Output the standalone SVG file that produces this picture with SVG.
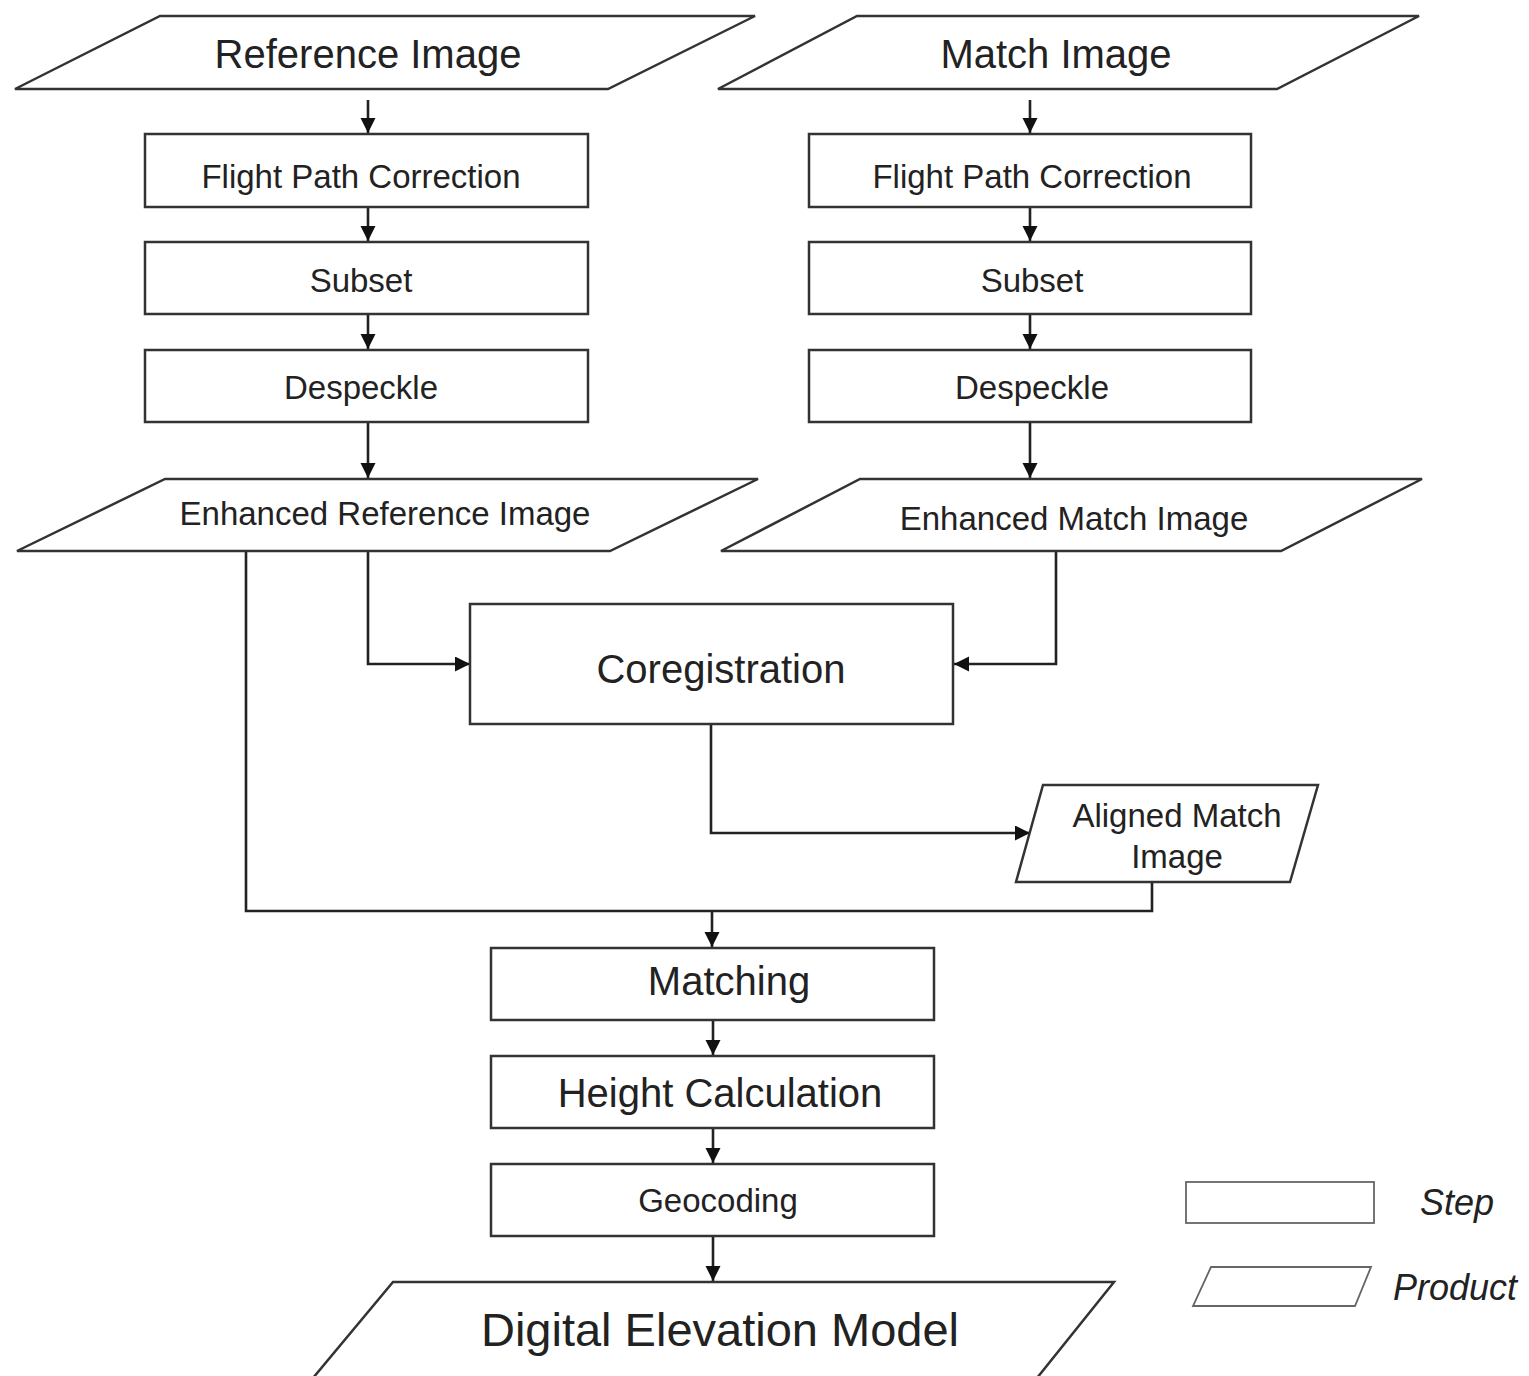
<svg xmlns="http://www.w3.org/2000/svg" width="1529" height="1376" viewBox="0 0 1529 1376">
<defs>
<style>
.shape{fill:#fff;stroke:#333;stroke-width:2.5;stroke-linejoin:miter}
.leg{fill:#fff;stroke:#666;stroke-width:1.8}
.t{font-family:"Liberation Sans",Arial,sans-serif;fill:#222;text-anchor:middle}
.s33{font-size:33px}
.s40{font-size:40px}
.s47{font-size:47px}
.it{font-family:"Liberation Sans",Arial,sans-serif;font-style:italic;font-size:36px;fill:#222}
.c{fill:none;stroke:#222;stroke-width:2.6}
</style>
<marker id="ah" markerUnits="userSpaceOnUse" markerWidth="17" markerHeight="16" refX="15" refY="7.5" orient="auto">
<path d="M0,0 L15,7.5 L0,15 z" fill="#111"/>
</marker>
</defs>
<rect width="1529" height="1376" fill="#fff"/>

<g id="connectors">
<path class="c" d="M368,100 V133" marker-end="url(#ah)"/>
<path class="c" d="M368,207 V241" marker-end="url(#ah)"/>
<path class="c" d="M368,315 V349" marker-end="url(#ah)"/>
<path class="c" d="M368,423 V478" marker-end="url(#ah)"/>
<path class="c" d="M1030,100 V133" marker-end="url(#ah)"/>
<path class="c" d="M1030,207 V241" marker-end="url(#ah)"/>
<path class="c" d="M1030,315 V349" marker-end="url(#ah)"/>
<path class="c" d="M1030,423 V478" marker-end="url(#ah)"/>
<path class="c" d="M368,551 V664 H470" marker-end="url(#ah)"/>
<path class="c" d="M1056,551 V664 H954" marker-end="url(#ah)"/>
<path class="c" d="M711,724 V833 H1030" marker-end="url(#ah)"/>
<path class="c" d="M246,551 V911 H1152 V882"/>
<path class="c" d="M712,911 V947" marker-end="url(#ah)"/>
<path class="c" d="M713,1020 V1055" marker-end="url(#ah)"/>
<path class="c" d="M713,1128 V1163" marker-end="url(#ah)"/>
<path class="c" d="M713,1236 V1281" marker-end="url(#ah)"/>
</g>

<g id="reference-image">
<polygon class="shape" points="160,16 755,16 608,89 15,89"/>
<text class="t s40" x="368" y="68">Reference Image</text>
</g>
<g id="match-image">
<polygon class="shape" points="857,16 1419,16 1277,89 718,89"/>
<text class="t s40" x="1056" y="68">Match Image</text>
</g>
<g id="fpc-left">
<rect class="shape" x="145" y="134" width="443" height="73"/>
<text class="t s33" x="361" y="188">Flight Path Correction</text>
</g>
<g id="fpc-right">
<rect class="shape" x="809" y="134" width="442" height="73"/>
<text class="t s33" x="1032" y="188">Flight Path Correction</text>
</g>
<g id="subset-left">
<rect class="shape" x="145" y="242" width="443" height="72"/>
<text class="t s33" x="361" y="292">Subset</text>
</g>
<g id="subset-right">
<rect class="shape" x="809" y="242" width="442" height="72"/>
<text class="t s33" x="1032" y="292">Subset</text>
</g>
<g id="despeckle-left">
<rect class="shape" x="145" y="350" width="443" height="72"/>
<text class="t s33" x="361" y="399">Despeckle</text>
</g>
<g id="despeckle-right">
<rect class="shape" x="809" y="350" width="442" height="72"/>
<text class="t s33" x="1032" y="399">Despeckle</text>
</g>
<g id="enhanced-reference-image">
<polygon class="shape" points="165,479 758,479 610,551 17,551"/>
<text class="t s33" x="385" y="525">Enhanced Reference Image</text>
</g>
<g id="enhanced-match-image">
<polygon class="shape" points="860,479 1422,479 1281,551 721,551"/>
<text class="t s33" x="1074" y="530">Enhanced Match Image</text>
</g>
<g id="coregistration">
<rect class="shape" x="470" y="604" width="483" height="120"/>
<text class="t s40" x="721" y="683">Coregistration</text>
</g>
<g id="aligned-match-image">
<polygon class="shape" points="1043,785 1318,785 1290,882 1016,882"/>
<text class="t s33" x="1177" y="827">Aligned Match</text>
<text class="t s33" x="1177" y="868">Image</text>
</g>
<g id="matching">
<rect class="shape" x="491" y="948" width="443" height="72"/>
<text class="t s40" x="729" y="995">Matching</text>
</g>
<g id="height-calculation">
<rect class="shape" x="491" y="1056" width="443" height="72"/>
<text class="t s40" x="720" y="1107">Height Calculation</text>
</g>
<g id="geocoding">
<rect class="shape" x="491" y="1164" width="443" height="72"/>
<text class="t s33" x="718" y="1212">Geocoding</text>
</g>
<g id="dem">
<polygon class="shape" points="393,1282 1114,1282 1037,1378 313,1378"/>
<text class="t s47" x="720" y="1346">Digital Elevation Model</text>
</g>

<g id="legend-step">
<rect class="leg" x="1186" y="1182" width="188" height="41"/>
<text class="it" x="1420" y="1215">Step</text>
</g>
<g id="legend-product">
<polygon class="leg" points="1211,1267 1371,1267 1355,1306 1193,1306"/>
<text class="it" x="1393" y="1300">Product</text>
</g>
</svg>
